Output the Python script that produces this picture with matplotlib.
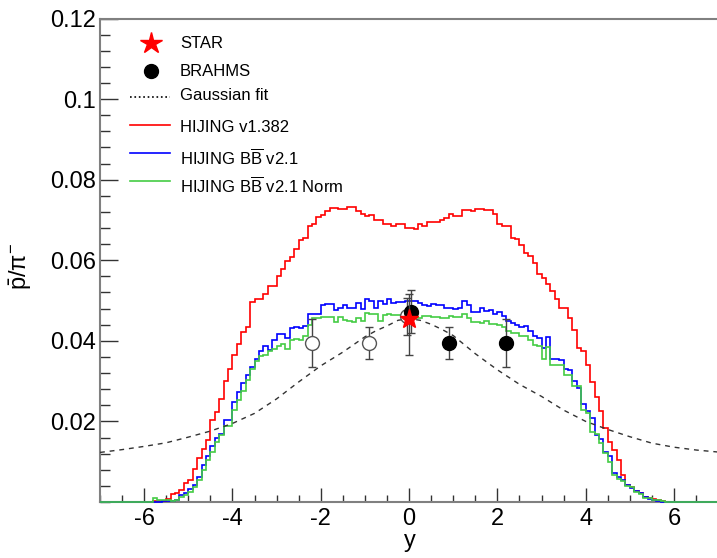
import numpy as np
import matplotlib
matplotlib.use("Agg")
import matplotlib.pyplot as plt
from matplotlib.lines import Line2D
from matplotlib.ticker import MultipleLocator

plt.rcParams["font.family"] = ["Liberation Sans", "DejaVu Sans"]
plt.rcParams["mathtext.fontset"] = "custom"
plt.rcParams["mathtext.rm"] = "Liberation Sans"
plt.rcParams["mathtext.it"] = "Liberation Sans:italic"
plt.rcParams["axes.unicode_minus"] = False

# ---- data -------------------------------------------------------------
# histograms: 140 bins of width 0.1 covering y = -7 .. 7
n_bins = 140
y_lo, y_hi = -7.0, 7.0

hijing_1382 = (
    [0.0] * 12
    + [0.0002, 0.0003, 0.0003, 0.0007, 0.0019, 0.0022, 0.0030, 0.0046, 0.0054, 0.0081,
       0.0109, 0.0131, 0.0154, 0.0204, 0.0224, 0.0256, 0.0301, 0.0329, 0.0364, 0.0393,
       0.0421, 0.0434]
    + [0.0496, 0.0503, 0.0505]
    + [0.0517, 0.0537, 0.0535, 0.0561, 0.0578, 0.0598, 0.0609, 0.0629, 0.0651, 0.0655,
       0.0686, 0.0690, 0.0708, 0.0713, 0.0723, 0.0730, 0.0729, 0.0727, 0.0726, 0.0731,
       0.0733, 0.0722, 0.0715, 0.0711, 0.0713, 0.0700, 0.0700, 0.0690, 0.0690, 0.0686,
       0.0690, 0.0690, 0.0680, 0.0681, 0.0677, 0.0690, 0.0684, 0.0696, 0.0695, 0.0695,
       0.0701, 0.0705, 0.0716, 0.0710, 0.0710, 0.0725, 0.0724, 0.0722, 0.0726, 0.0728,
       0.0725, 0.0725, 0.0715, 0.0691, 0.0686, 0.0686, 0.0655, 0.0652, 0.0638, 0.0617,
       0.0611, 0.0592, 0.0565, 0.0555, 0.0540, 0.0524, 0.0505]
    + [0.0481, 0.0481, 0.0456, 0.0428, 0.0383, 0.0376, 0.0341, 0.0298, 0.0260, 0.0227,
       0.0184, 0.0150, 0.0130, 0.0103, 0.0067, 0.0042, 0.0038, 0.0028, 0.0023, 0.0013,
       0.0009, 0.0008, 0.0006, 0.0002]
    + [0.0] * 12
)

hijing_bb = (
    [0.0] * 12
    + [0.0001, 0.0001, 0.0002, 0.0002, 0.0003]
    + [0.0005, 0.0017, 0.0022, 0.0032, 0.0042, 0.0063, 0.0092, 0.0115, 0.0139, 0.0159,
       0.0169, 0.0204, 0.0204, 0.0247, 0.0272, 0.0295, 0.0316, 0.0335, 0.0354, 0.0374,
       0.0388, 0.0377, 0.0402, 0.0416, 0.0416, 0.0408, 0.0432, 0.0434, 0.0432, 0.0438]
    + [0.0466, 0.0467, 0.0467, 0.0488, 0.0491, 0.0491, 0.0476, 0.0481, 0.0489, 0.0481,
       0.0481, 0.0495, 0.0478, 0.0503, 0.0499, 0.0481, 0.0500, 0.0491, 0.0503, 0.0495,
       0.0497, 0.0497, 0.0499]
    + [0.0498, 0.0499, 0.0495, 0.0489, 0.0486, 0.0492, 0.0489, 0.0489, 0.0481, 0.0482,
       0.0478, 0.0482, 0.0500, 0.0489, 0.0472, 0.0472, 0.0482, 0.0474, 0.0477, 0.0467,
       0.0472, 0.0461, 0.0449, 0.0445, 0.0439, 0.0434, 0.0436, 0.0424, 0.0413, 0.0408,
       0.0383, 0.0410]
    + [0.0355, 0.0355, 0.0353, 0.0330, 0.0328, 0.0300, 0.0283, 0.0244, 0.0225, 0.0208,
       0.0167, 0.0156, 0.0123, 0.0113, 0.0071, 0.0063, 0.0055, 0.0041, 0.0034, 0.0028,
       0.0022, 0.0013, 0.0007, 0.0005, 0.0002, 0.0001]
    + [0.0] * 12
)

hijing_bb_norm = (
    [0.0] * 11
    + [0.0001, 0.0009, 0.0006, 0.0006, 0.0004, 0.0003]
    + [0.0004, 0.0012, 0.0017, 0.0025, 0.0038, 0.0055, 0.0080, 0.0105, 0.0125, 0.0150,
       0.0167, 0.0189, 0.0189, 0.0229, 0.0254, 0.0275, 0.0304, 0.0330, 0.0349, 0.0362,
       0.0366, 0.0374, 0.0380, 0.0388, 0.0391, 0.0380, 0.0403, 0.0405, 0.0402, 0.0412]
    + [0.0440, 0.0457, 0.0457, 0.0459, 0.0459, 0.0458, 0.0447, 0.0459, 0.0451, 0.0448,
       0.0447, 0.0456, 0.0449, 0.0468, 0.0467, 0.0467, 0.0449, 0.0465, 0.0467, 0.0463,
       0.0465, 0.0463, 0.0465]
    + [0.0462, 0.0458, 0.0457, 0.0461, 0.0461, 0.0459, 0.0459, 0.0457, 0.0457, 0.0461,
       0.0459, 0.0459, 0.0467, 0.0457, 0.0447, 0.0447, 0.0445, 0.0449, 0.0443, 0.0443,
       0.0439, 0.0434, 0.0424, 0.0420, 0.0420, 0.0412, 0.0412, 0.0403, 0.0390, 0.0388,
       0.0355, 0.0385]
    + [0.0339, 0.0339, 0.0339, 0.0314, 0.0314, 0.0287, 0.0287, 0.0229, 0.0221, 0.0173,
       0.0168, 0.0146, 0.0122, 0.0100, 0.0067, 0.0058, 0.0051, 0.0040, 0.0036, 0.0024,
       0.0020, 0.0010, 0.0010, 0.0005, 0.0005, 0.0002]
    + [0.0] * 12
)

# Gaussian fit curve
fit_x = [-7.0, -6.5, -6.0, -5.5, -5.0, -4.5, -4.0, -3.5, -3.0, -2.5, -2.0, -1.5, -1.0,
         -0.75, -0.5, -0.25, 0.0, 0.25, 0.5, 0.75, 1.0, 1.5, 2.0, 2.5, 3.0, 3.5, 4.0,
         4.5, 5.0, 5.5, 6.0, 6.5, 7.0]
fit_val = [0.0123, 0.0130, 0.0138, 0.0147, 0.0161, 0.0176, 0.0195, 0.0220, 0.0256,
           0.0298, 0.0338, 0.0372, 0.0410, 0.0425, 0.0437, 0.0451, 0.0455, 0.0451,
           0.0441, 0.0428, 0.0413, 0.0368, 0.0328, 0.0292, 0.0262, 0.0228, 0.0200,
           0.0180, 0.0162, 0.0146, 0.0136, 0.0129, 0.0124]

# BRAHMS measured (filled) and reflected (open) points
brahms_x = [0.05, 0.9, 2.2]
brahms_val = [0.0472, 0.0395, 0.0395]
brahms_err = [0.0053, 0.0040, 0.0060]
refl_x = [-0.05, -0.9, -2.2]
refl_val = [0.0461, 0.0395, 0.0395]
refl_err = [0.0046, 0.0040, 0.0060]

# STAR point
star_x = [0.0]
star_val = [0.0453]
star_err_lo = [0.0087]
star_err_hi = [0.0064]

xtick_vals = [-6, -4, -2, 0, 2, 4, 6]
xtick_labels = ["-6", "-4", "-2", "0", "2", "4", "6"]
ytick_vals = [0.02, 0.04, 0.06, 0.08, 0.10, 0.12]
ytick_labels = ["0.02", "0.04", "0.06", "0.08", "0.1", "0.12"]

# ---- figure -----------------------------------------------------------
W, H = 717, 558
fig = plt.figure(figsize=(W / 100, H / 100), dpi=100)
ax = fig.add_axes([100 / W, 1 - 502 / H, 618.2 / W, (502 - 18.5) / H])

edges = np.linspace(y_lo, y_hi, n_bins + 1)
ax.stairs(hijing_1382, edges, color="#ff0000", lw=1.2, zorder=3, clip_on=False)
ax.stairs(hijing_bb, edges, color="#0000ff", lw=1.2, zorder=3, clip_on=False)
ax.stairs(hijing_bb_norm, edges, color="#44cc44", lw=1.2, zorder=3, clip_on=False)

ax.plot(fit_x, fit_val, color="#333333", lw=1.0, ls=(0, (3.5, 3.5)), zorder=3)

ecol = "#444444"
ax.errorbar(refl_x, refl_val, yerr=refl_err, fmt="o", ms=10, mfc="white", mec="#555555",
            mew=1.0, ecolor=ecol, elinewidth=1.0, capsize=3, zorder=4)
ax.errorbar(brahms_x, brahms_val, yerr=brahms_err, fmt="o", ms=10, mfc="black", mec="black",
            ecolor=ecol, elinewidth=1.0, capsize=3, zorder=5)
ax.errorbar(star_x, star_val, yerr=[star_err_lo, star_err_hi], fmt="*", ms=14, mfc="#ff0000",
            mec="#ff0000", ecolor=ecol, elinewidth=1.0, capsize=3, zorder=6)

ax.set_xlim(y_lo, y_hi)
ax.set_ylim(0, 0.12)
ax.set_xticks(xtick_vals, labels=xtick_labels)
ax.set_yticks(ytick_vals, labels=ytick_labels)
ax.xaxis.set_minor_locator(MultipleLocator(0.5))
ax.yaxis.set_minor_locator(MultipleLocator(0.004))
ax.tick_params(axis="both", which="both", direction="in", colors="#333333",
               labelcolor="black", labelsize=17, width=1.0)
ax.tick_params(axis="y", which="major", length=13, pad=3)
ax.tick_params(axis="y", which="minor", length=7)
ax.tick_params(axis="x", which="major", length=10, pad=4)
ax.tick_params(axis="x", which="minor", length=5)

for side in ("left", "bottom", "top"):
    ax.spines[side].set_color("#808080")
    ax.spines[side].set_linewidth(1.5)
ax.spines["right"].set_visible(False)

fig.text(410 / W, 1 - 541 / H, "y", fontsize=17, ha="center", va="center")
fig.text(21 / W, 1 - 266 / H, r"$\mathrm{\bar{p}/\pi^{-}}$", fontsize=17, rotation=90,
         ha="center", va="center")

# ---- legend (drawn by hand, ROOT style) -------------------------------
def fx(px):
    return px / W


def fy(py):
    return 1 - py / H


fig.add_artist(Line2D([fx(151)], [fy(43)], marker="*", ms=16, color="#ff0000", ls="none"))
fig.add_artist(Line2D([fx(151)], [fy(71)], marker="o", ms=10, color="black", ls="none"))
fig.add_artist(Line2D([fx(130), fx(170)], [fy(97), fy(97)], color="black", lw=1.2, ls=":"))
fig.add_artist(Line2D([fx(130), fx(170)], [fy(125), fy(125)], color="#ff0000", lw=1.2))
fig.add_artist(Line2D([fx(130), fx(170)], [fy(153), fy(153)], color="#0000ff", lw=1.2))
fig.add_artist(Line2D([fx(130), fx(170)], [fy(181), fy(181)], color="#44cc44", lw=1.2))

leg_fs = 12
fig.text(fx(180), fy(43), "STAR", fontsize=leg_fs, va="center")
fig.text(fx(180), fy(71), "BRAHMS", fontsize=leg_fs, va="center")
fig.text(fx(180), fy(95), "Gaussian fit", fontsize=leg_fs, va="center")
fig.text(fx(180), fy(127), "HIJING v1.382", fontsize=leg_fs, va="center")
fig.text(fx(180), fy(158), r"HIJING B$\overline{\mathrm{B}}$ v2.1", fontsize=leg_fs, va="center")
fig.text(fx(180), fy(186), r"HIJING B$\overline{\mathrm{B}}$ v2.1 Norm", fontsize=leg_fs, va="center")

fig.savefig("out.png", dpi=100)
